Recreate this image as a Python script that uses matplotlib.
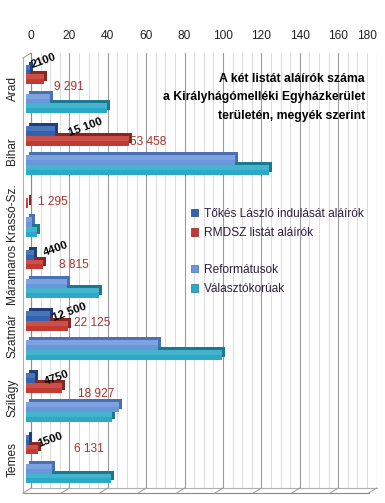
import numpy as np
import matplotlib
matplotlib.use("Agg")
import matplotlib.pyplot as plt
from matplotlib.transforms import ScaledTranslation
from matplotlib.patches import Patch
from matplotlib.lines import Line2D

plt.rcParams['font.family'] = ['Liberation Sans', 'DejaVu Sans']

# data (thousands)
megyek = ["Arad", "Bihar", "Krassó-Sz.", "Máramaros", "Szatmár", "Szilágy", "Temes"]
tokes = [2.1, 15.1, np.nan, 4.4, 12.5, 4.75, 1.5]
rmdsz = [9.291, 53.458, 1.295, 8.815, 22.125, 18.927, 6.131]
reformatusok = [12.5, 109, 3, 21.2, 68.9, 48.4, 13.4]
valasztokoruak = [42.3, 126.7, 5.5, 38.2, 101.9, 45, 44.3]
tokes_labels = ["2100", "15 100", "", "4400", "12 500", "4750", "1500"]
rmdsz_labels = ["9 291", "53 458", "1 295", "8 815", "22 125", "18 927", "6 131"]
x_ticks = [0, 20, 40, 60, 80, 100, 120, 140, 160, 180]

series_names = ["Tőkés László indulását aláírók", "RMDSZ listát aláírók",
                "Reformátusok", "Választókorúak"]
front_col = ["#3262B0", "#C23A31", "#6A96DC", "#2BA9C6"]
side_col = ["#1E3F7A", "#8A2521", "#4870B3", "#1C7890"]

# label nudges in pixels (dx, dy up)
tokes_off = [(14, 9), (31, 4), (0, 0), (21, 6), (20, 4), (22, 0), (21, 0)]
rmdsz_off = [(10, -8), (1, -1), (10, 1), (16, -1), (6, 3), (16, -6), (36, 0)]

W, H, DPI = 385, 503, 100
fig = plt.figure(figsize=(W / DPI, H / DPI), dpi=DPI)
left, right, top, bottom = 31, 376.6, 53, 488
ax = fig.add_axes([left / W, 1 - bottom / H, (right - left) / W, (bottom - top) / H])

pitch = 61.7
ax.set_xlim(0, 180)
ax.set_ylim(6 + 29 / pitch, -36 / pitch)

px = 1.0 / DPI
front_tr = ax.transData + ScaledTranslation(-5 * px, 0, fig.dpi_scale_trans)
back_tr = ax.transData + ScaledTranslation(-2 * px, 3 * px, fig.dpi_scale_trans)

y = np.arange(len(megyek))
offsets = [-0.315, -0.155, 0.155, 0.315]
h = 0.16
all_vals = [tokes, rmdsz, reformatusok, valasztokoruak]
# draw lower bars first so the upper one hides their top face
for k in range(3, -1, -1):
    vals = all_vals[k]
    z = 3 + (3 - k) * 3
    ax.barh(y + offsets[k], vals, height=h, color=side_col[k], transform=back_tr,
            clip_on=False, zorder=z)
    ax.barh(y + offsets[k], vals, height=h, color=front_col[k], transform=front_tr,
            clip_on=False, zorder=z + 1)
    # soft highlight on the upper half
    ax.barh(y + offsets[k] - h / 4, vals, height=h / 2, color="white", alpha=0.12,
            transform=front_tr, clip_on=False, zorder=z + 2)

for i in range(len(megyek)):
    if tokes_labels[i]:
        dx, dy = tokes_off[i]
        ax.annotate(tokes_labels[i], (tokes[i], y[i] + offsets[0]), xycoords=front_tr,
                    xytext=(dx * 0.72, dy * 0.72), textcoords="offset points",
                    ha="center", va="center", rotation=20, fontsize=8.2,
                    fontweight="bold", color="black", zorder=20)
    dx, dy = rmdsz_off[i]
    ax.annotate(rmdsz_labels[i], (rmdsz[i], y[i] + offsets[1]), xycoords=front_tr,
                xytext=(dx * 0.72, dy * 0.72), textcoords="offset points",
                ha="left", va="center", fontsize=8.6, color="#A8322B", zorder=20)

# axes look
ax.xaxis.tick_top()
ax.set_xticks(x_ticks)
ax.set_xticks(np.arange(0, 181, 5), minor=True)
ax.tick_params(axis="x", which="both", length=0, pad=8, labelsize=8.6, colors="#222222")
ax.get_xticklabels()[-1].set_ha("right")
ax.set_yticks(y)
ax.set_yticklabels(megyek, rotation=90, va="center", fontsize=8.6, color="#222222")
ax.tick_params(axis="y", length=0, pad=9)
ax.grid(which="major", axis="x", color="#9a9a9a", lw=0.8)
ax.grid(which="minor", axis="x", color="#d6d6d6", lw=0.6)
ax.set_axisbelow(True)
for s in ["top", "right"]:
    ax.spines[s].set_visible(False)
ax.spines["left"].set_color("#8a8a8a")
ax.spines["bottom"].set_color("#b0b0b0")

# floor and side wall edges
shift = ax.transAxes + ScaledTranslation(-8 * px, -5 * px, fig.dpi_scale_trans)
ax.plot([0, 1], [0, 0], transform=shift, color="#8a8a8a", lw=0.8, clip_on=False)
ax.plot([0, 0], [0, 1], transform=shift, color="#b0b0b0", lw=0.8, clip_on=False)
fig.canvas.draw()
for v in x_ticks:
    bx, by = ax.get_xaxis_transform().transform((v, 0))
    fig.add_artist(Line2D([bx / W, (bx - 8) / W], [by / H, (by - 5) / H],
                          color="#9a9a9a", lw=0.7))
tx, ty = ax.transAxes.transform((0, 1))
fig.add_artist(Line2D([tx / W, (tx - 8) / W], [ty / H, (ty - 5) / H], color="#9a9a9a", lw=0.7))

# title
fig.text(365 / W, 1 - 73 / H, "A két listát aláírók száma\na Királyhágómelléki Egyházkerület\nterületén, megyék szerint",
         ha="right", va="top", multialignment="right", fontsize=8.8, fontweight="bold",
         linespacing=1.7, color="black")

# legends
handles = [Patch(facecolor=front_col[k], edgecolor=side_col[k], lw=0.5) for k in range(4)]
leg1 = fig.legend(handles[:2], series_names[:2], loc="upper left",
                  bbox_to_anchor=(186 / W, 1 - 203 / H), frameon=False, fontsize=8.6,
                  handlelength=0.6, handleheight=0.6, handletextpad=0.5, labelspacing=0.6,
                  borderaxespad=0, labelcolor="#2d2040")
leg2 = fig.legend(handles[2:], series_names[2:], loc="upper left",
                  bbox_to_anchor=(186 / W, 1 - 259 / H), frameon=False, fontsize=8.6,
                  handlelength=0.6, handleheight=0.6, handletextpad=0.5, labelspacing=0.6,
                  borderaxespad=0, labelcolor="#2d2040")

fig.savefig("out.png", dpi=DPI)
